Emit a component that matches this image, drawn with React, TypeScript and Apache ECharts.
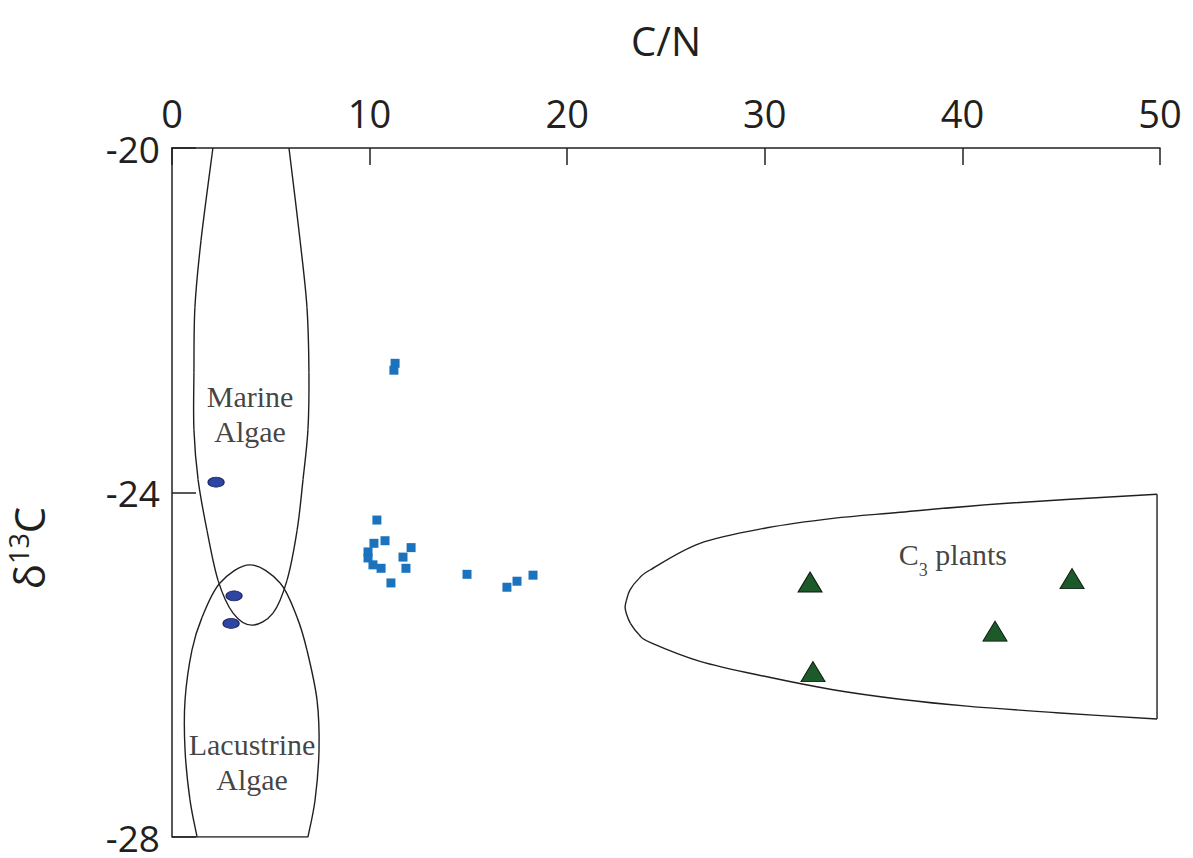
import React, { useEffect, useRef } from "react";
import * as echarts from "echarts";

// C/N ratio (x) versus δ13C (y) sample values
const marineAlgaeSamples: number[][] = [
  [2.23, -23.88],
  [3.14, -25.2],
  [2.99, -25.52],
];

const sedimentSamples: number[][] = [
  [11.29, -22.5],
  [11.23, -22.58],
  [10.37, -24.32],
  [10.78, -24.56],
  [10.22, -24.59],
  [9.92, -24.69],
  [9.92, -24.76],
  [10.17, -24.84],
  [10.58, -24.88],
  [11.08, -25.05],
  [11.69, -24.75],
  [12.1, -24.64],
  [11.84, -24.88],
  [14.93, -24.95],
  [16.95, -25.1],
  [17.46, -25.03],
  [18.27, -24.96],
];

const c3PlantSamples: number[][] = [
  [32.29, -25.04],
  [32.44, -26.08],
  [41.65, -25.61],
  [45.55, -25.0],
];

// Outlines of the source fields, in C/N and δ13C units
const marineAlgaeField: number[][] = [
  [2.07, -20.0],
  [1.47, -21.07],
  [1.16, -21.85],
  [1.11, -22.61],
  [1.11, -23.27],
  [1.32, -23.85],
  [1.77, -24.44],
  [2.33, -25.02],
  [3.09, -25.4],
  [4.05, -25.54],
  [5.11, -25.4],
  [5.82, -25.02],
  [6.33, -24.44],
  [6.63, -23.85],
  [6.88, -23.27],
  [6.93, -22.61],
  [6.83, -21.85],
  [6.48, -21.07],
  [5.92, -20.0],
];

const lacustrineAlgaeField: number[][] = [
  [1.27, -28.0],
  [0.91, -27.57],
  [0.66, -26.99],
  [0.66, -26.41],
  [1.01, -25.83],
  [1.52, -25.45],
  [2.43, -25.05],
  [3.95, -24.84],
  [5.47, -25.05],
  [6.33, -25.45],
  [6.83, -25.83],
  [7.34, -26.41],
  [7.44, -26.99],
  [7.24, -27.57],
  [6.88, -28.0],
];
const lacustrineBase: number[][] = [
  [0, -28.0],
  [6.88, -28.0],
];

const c3PlantField: number[][] = [
  [49.85, -24.02],
  [41.9, -24.13],
  [36.84, -24.23],
  [33.45, -24.3],
  [30.11, -24.41],
  [26.72, -24.59],
  [24.19, -24.9],
  [23.63, -25.0],
  [23.18, -25.13],
  [23.0, -25.25],
  [22.93, -25.33],
  [23.0, -25.41],
  [23.2, -25.52],
  [23.63, -25.65],
  [24.19, -25.74],
  [26.72, -25.96],
  [30.11, -26.14],
  [33.45, -26.29],
  [36.84, -26.4],
  [40.23, -26.48],
  [44.94, -26.56],
  [49.85, -26.63],
];
const c3PlantEdge: number[][] = [
  [49.85, -24.02],
  [49.85, -26.63],
];

const INK = "#231f20";
const SANS = "'Open Sans', 'DejaVu Sans', sans-serif";
const SERIF = "'Liberation Serif', 'Times New Roman', serif";

// Smooth outline through the given points (Catmull-Rom segments as cubic Béziers)
const curvedOutline = (points: number[][]) => ({
  type: "custom",
  data: points,
  silent: true,
  z: 2,
  renderItem: (params: any, api: any) => {
    if (params.dataIndex !== 0) return null;
    const p = points.map((pt) => api.coord(pt));
    const n = p.length;
    const at = (i: number) => p[Math.max(0, Math.min(n - 1, i))];
    const children = [];
    for (let i = 0; i < n - 1; i++) {
      const p0 = at(i - 1);
      const p1 = at(i);
      const p2 = at(i + 1);
      const p3 = at(i + 2);
      children.push({
        type: "bezierCurve",
        shape: {
          x1: p1[0],
          y1: p1[1],
          cpx1: p1[0] + (p2[0] - p0[0]) / 6,
          cpy1: p1[1] + (p2[1] - p0[1]) / 6,
          cpx2: p2[0] - (p3[0] - p1[0]) / 6,
          cpy2: p2[1] - (p3[1] - p1[1]) / 6,
          x2: p2[0],
          y2: p2[1],
        },
        style: { stroke: INK, lineWidth: 1.4, fill: null },
      });
    }
    return { type: "group", children };
  },
});

const straightEdge = (data: number[][]) => ({
  type: "line",
  data,
  symbol: "none",
  silent: true,
  lineStyle: { color: INK, width: 1.4 },
  z: 2,
});

export default function App() {
  const ref = useRef<HTMLDivElement>(null);

  useEffect(() => {
    if (!ref.current) return;
    const chart = echarts.init(ref.current, undefined, { renderer: "svg" });
    chart.setOption({
      animation: false,
      backgroundColor: "#ffffff",
      grid: { left: 172, right: 33, top: 148, bottom: 21 },
      xAxis: {
        type: "value",
        position: "top",
        min: 0,
        max: 50,
        interval: 10,
        name: "C/N",
        nameLocation: "middle",
        nameGap: 88,
        nameTextStyle: { fontFamily: SANS, fontSize: 40, color: INK },
        axisLine: { show: true, lineStyle: { color: INK, width: 1.5 } },
        axisTick: { show: true, inside: true, length: 17, lineStyle: { color: INK, width: 1.5 } },
        axisLabel: { fontFamily: SANS, fontSize: 38, lineHeight: 30, color: INK, margin: 20 },
        splitLine: { show: false },
      },
      yAxis: {
        type: "value",
        min: -28,
        max: -20,
        interval: 4,
        axisLine: { show: true, lineStyle: { color: INK, width: 1.5 } },
        axisTick: { show: true, inside: true, length: 24, lineStyle: { color: INK, width: 1.5 } },
        axisLabel: { fontFamily: SANS, fontSize: 37, lineHeight: 28, color: INK, margin: 12 },
        splitLine: { show: false },
      },
      graphic: [
        {
          type: "text",
          x: 28,
          y: 548,
          rotation: Math.PI / 2,
          style: {
            text: "{d|δ}{s|13}{d|C}",
            align: "center",
            verticalAlign: "middle",
            fill: INK,
            rich: {
              d: { fontFamily: SANS, fontSize: 42, lineHeight: 46, fill: INK },
              s: { fontFamily: SANS, fontSize: 27, lineHeight: 27, verticalAlign: "top", fill: INK },
            },
          },
        },
      ],
      series: [
        curvedOutline(marineAlgaeField),
        curvedOutline(lacustrineAlgaeField),
        straightEdge(lacustrineBase),
        curvedOutline(c3PlantField),
        straightEdge(c3PlantEdge),
        {
          type: "scatter",
          silent: true,
          symbolSize: 0,
          data: [
            { value: [3.95, -23.09], label: { formatter: "Marine\nAlgae" } },
            { value: [4.05, -27.13], label: { formatter: "Lacustrine\nAlgae" } },
            { value: [39.52, -24.72], label: { formatter: "{c|C}{s|3}{c| plants}" } },
          ],
          label: {
            show: true,
            position: "inside",
            fontFamily: SERIF,
            fontSize: 30,
            lineHeight: 35,
            color: "#111111",
            align: "center",
            rich: {
              c: { fontFamily: SERIF, fontSize: 30, lineHeight: 48, color: "#111111" },
              s: { fontFamily: SERIF, fontSize: 18, lineHeight: 18, verticalAlign: "bottom", color: "#111111" },
            },
          },
          z: 3,
        },
        {
          name: "Algae",
          type: "scatter",
          data: marineAlgaeSamples,
          symbol: "circle",
          symbolSize: [16, 10],
          itemStyle: { color: "#2f45a3", borderColor: "#18225e", borderWidth: 1, opacity: 1 },
          z: 4,
        },
        {
          name: "Sediment",
          type: "scatter",
          data: sedimentSamples,
          symbol: "rect",
          symbolSize: 9,
          itemStyle: { color: "#1b73bd", opacity: 1 },
          z: 4,
        },
        {
          name: "C3 plants",
          type: "scatter",
          data: c3PlantSamples,
          symbol: "triangle",
          symbolSize: [24, 20],
          itemStyle: { color: "#1c5a2a", borderColor: "#0b1a0e", borderWidth: 1, opacity: 1 },
          z: 4,
        },
      ],
    });
    return () => chart.dispose();
  }, []);

  return (
    <div
      ref={ref}
      style={{ position: "absolute", left: 0, top: 0, width: 1193, height: 858 }}
    />
  );
}
